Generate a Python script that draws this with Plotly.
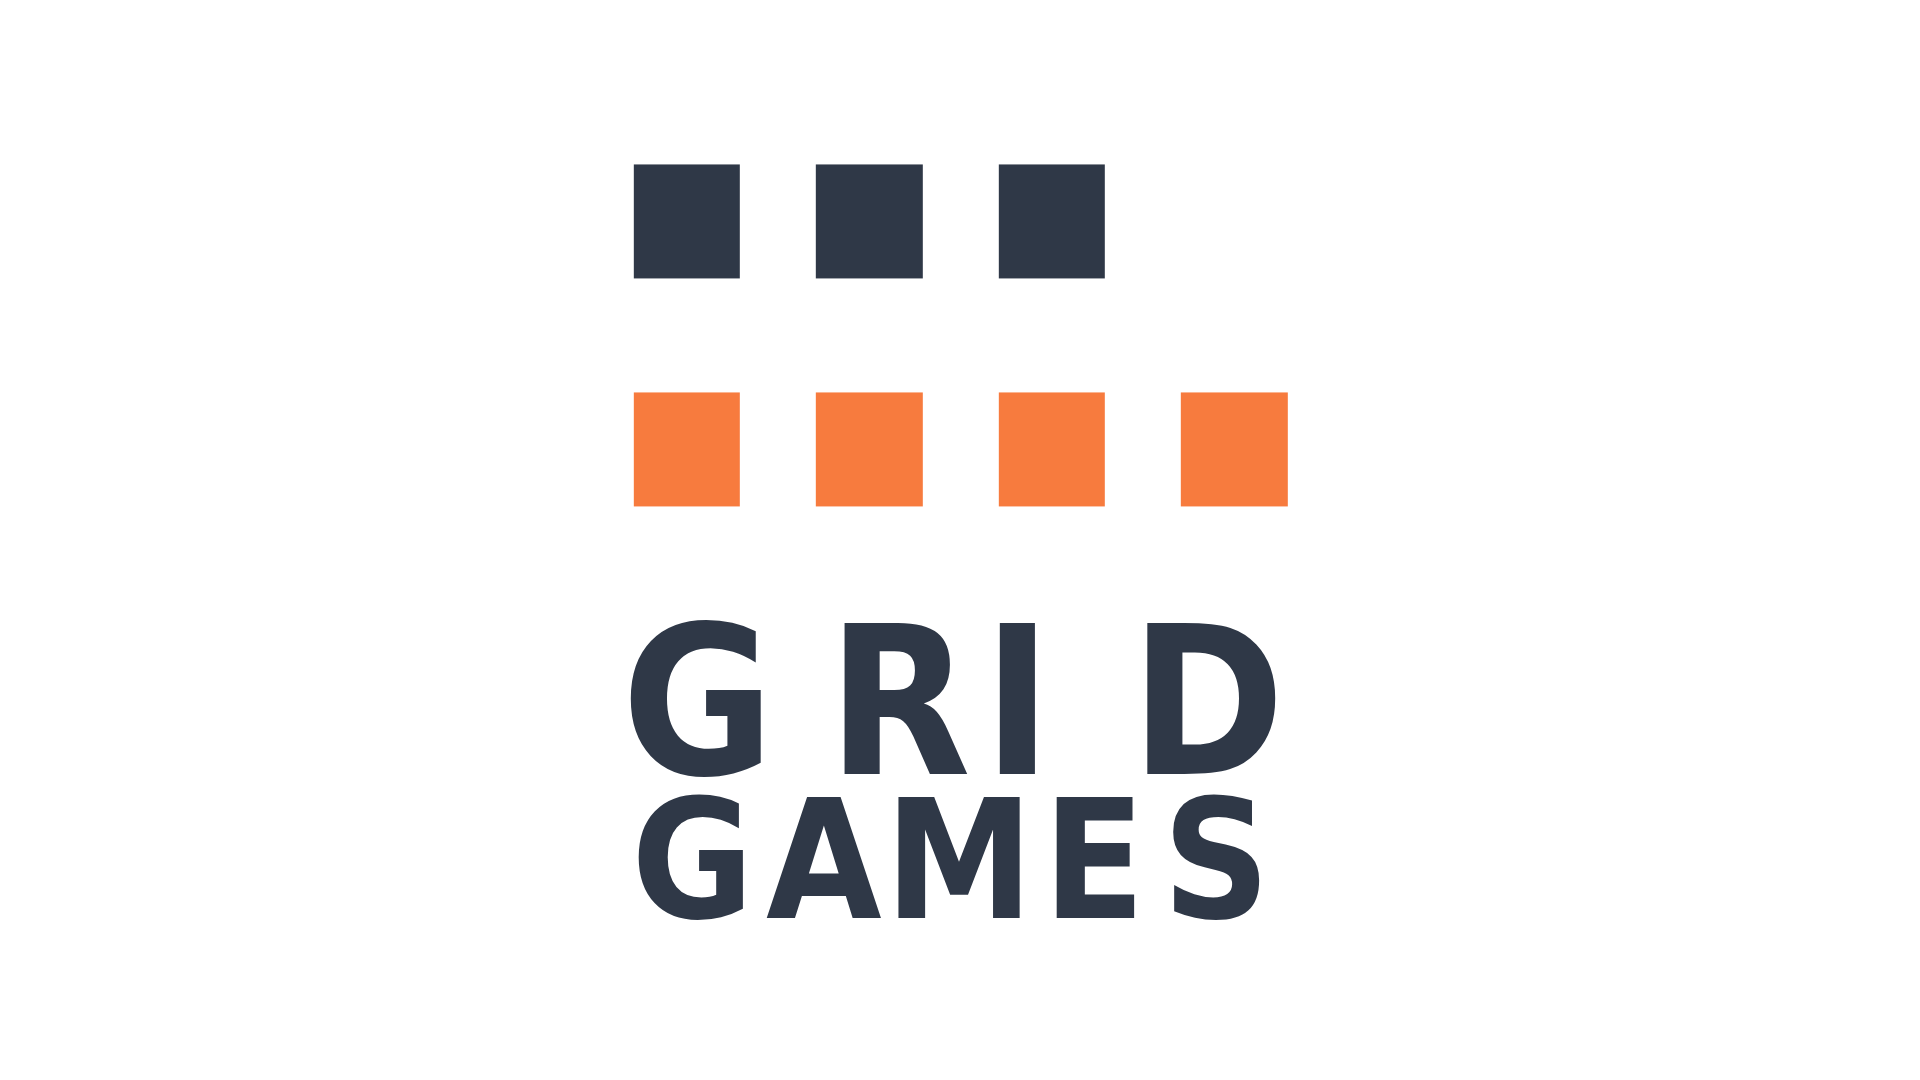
import plotly.graph_objects as go

# Logo data: block grid rows and the two words underneath
block_rows = ["top", "bottom"]
blocks_per_row = [3, 4]
n_cols = 4

word_1 = ["G", "R", "I", "D"]
word_2 = ["G", "A", "M", "E", "S"]

# layout constants (column units, row units)
word_1_x = [0.06, 1.163, 1.81, 2.853]
word_2_x = [0.03, 0.75, 1.49, 2.23, 2.90]
word_1_y = 2.197
word_2_y = 2.875

DARK = "#2f3847"
ORANGE = "#f77b3e"

z = []
for i, n in enumerate(blocks_per_row):
    z.append([i if c < n else None for c in range(n_cols)])

fig = go.Figure()
fig.add_trace(go.Heatmap(
    z=z,
    x=list(range(n_cols)),
    y=list(range(len(block_rows))),
    colorscale=[[0, DARK], [0.5, DARK], [0.5, ORANGE], [1, ORANGE]],
    zmin=0, zmax=1,
    showscale=False,
    xgap=76, ygap=114,
    hoverinfo="skip",
))

fig.add_trace(go.Scatter(
    x=word_1_x, y=[word_1_y] * len(word_1), text=word_1,
    mode="text", textposition="middle center", hoverinfo="skip",
    textfont=dict(family="DejaVu Sans Condensed", size=207, color=DARK, weight="bold"),
))
fig.add_trace(go.Scatter(
    x=word_2_x, y=[word_2_y] * len(word_2), text=word_2,
    mode="text", textposition="middle center", hoverinfo="skip",
    textfont=dict(family="DejaVu Sans Condensed", size=166, color=DARK, weight="bold"),
))

fig.update_xaxes(range=[-3.721, 6.800], visible=False, fixedrange=True)
fig.update_yaxes(range=[3.801, -0.936], visible=False, fixedrange=True)
fig.update_layout(
    width=1920, height=1080,
    margin=dict(l=0, r=0, t=0, b=0),
    paper_bgcolor="white",
    plot_bgcolor="white",
    showlegend=False,
)
fig.write_html("out.html")
